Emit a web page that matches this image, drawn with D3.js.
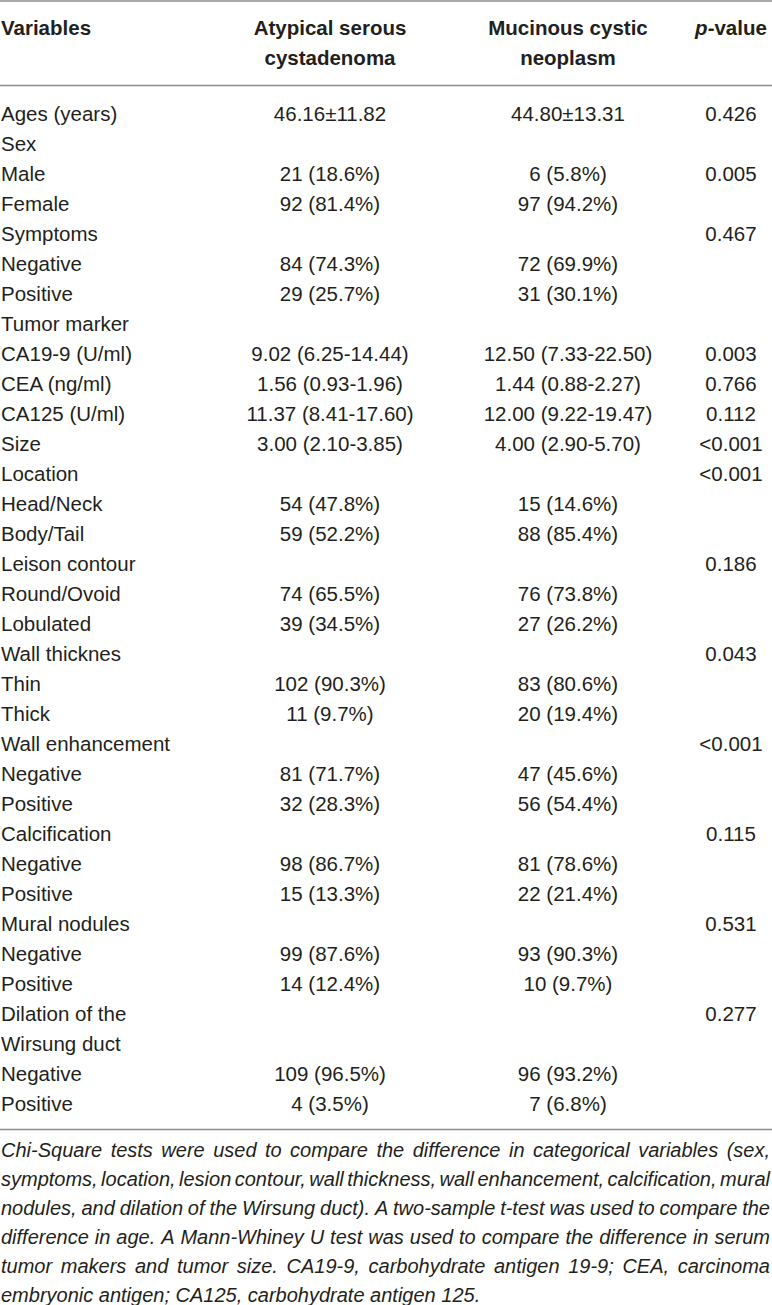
<!DOCTYPE html>
<html>
<head>
<meta charset="utf-8">
<script src="https://cdn.jsdelivr.net/npm/d3@7"></script>
<style>
  html, body { margin: 0; padding: 0; background: #fff; }
  svg { display: block; }
</style>
</head>
<body>
<div id="chart"></div>
<script>
// table content
const headers = [
  { key: 'label', lines: ['Variables'] },
  { key: 'asc', lines: ['Atypical serous', 'cystadenoma'] },
  { key: 'mcn', lines: ['Mucinous cystic', 'neoplasm'] },
  { key: 'p', lines: ['p-value'] }
];

const labels = [
  'Ages (years)', 'Sex', 'Male', 'Female', 'Symptoms', 'Negative', 'Positive',
  'Tumor marker', 'CA19-9 (U/ml)', 'CEA (ng/ml)', 'CA125 (U/ml)', 'Size',
  'Location', 'Head/Neck', 'Body/Tail', 'Leison contour', 'Round/Ovoid', 'Lobulated',
  'Wall thicknes', 'Thin', 'Thick', 'Wall enhancement', 'Negative', 'Positive',
  'Calcification', 'Negative', 'Positive', 'Mural nodules', 'Negative', 'Positive',
  'Dilation of the', 'Wirsung duct', 'Negative', 'Positive'
];

const ascValues = [
  '46.16±11.82', '', '21 (18.6%)', '92 (81.4%)', '', '84 (74.3%)', '29 (25.7%)',
  '', '9.02 (6.25-14.44)', '1.56 (0.93-1.96)', '11.37 (8.41-17.60)', '3.00 (2.10-3.85)',
  '', '54 (47.8%)', '59 (52.2%)', '', '74 (65.5%)', '39 (34.5%)',
  '', '102 (90.3%)', '11 (9.7%)', '', '81 (71.7%)', '32 (28.3%)',
  '', '98 (86.7%)', '15 (13.3%)', '', '99 (87.6%)', '14 (12.4%)',
  '', '', '109 (96.5%)', '4 (3.5%)'
];

const mcnValues = [
  '44.80±13.31', '', '6 (5.8%)', '97 (94.2%)', '', '72 (69.9%)', '31 (30.1%)',
  '', '12.50 (7.33-22.50)', '1.44 (0.88-2.27)', '12.00 (9.22-19.47)', '4.00 (2.90-5.70)',
  '', '15 (14.6%)', '88 (85.4%)', '', '76 (73.8%)', '27 (26.2%)',
  '', '83 (80.6%)', '20 (19.4%)', '', '47 (45.6%)', '56 (54.4%)',
  '', '81 (78.6%)', '22 (21.4%)', '', '93 (90.3%)', '10 (9.7%)',
  '', '', '96 (93.2%)', '7 (6.8%)'
];

const pValues = [
  '0.426', '', '0.005', '', '0.467', '', '',
  '', '0.003', '0.766', '0.112', '<0.001',
  '<0.001', '', '', '0.186', '', '',
  '0.043', '', '', '<0.001', '', '',
  '0.115', '', '', '0.531', '', '',
  '0.277', '', '', ''
];

const footnoteLines = [
  'Chi-Square tests were used to compare the difference in categorical variables (sex,',
  'symptoms, location, lesion contour, wall thickness, wall enhancement, calcification, mural',
  'nodules, and dilation of the Wirsung duct). A two-sample t-test was used to compare the',
  'difference in age. A Mann-Whiney U test was used to compare the difference in serum',
  'tumor makers and tumor size. CA19-9, carbohydrate antigen 19-9; CEA, carcinoma',
  'embryonic antigen; CA125, carbohydrate antigen 125.'
];

const W = 772, H = 1305;
const font = '"Liberation Sans", Arial, Helvetica, sans-serif';
const ink = '#231f20';
const ruleColor = '#8c8c8c';

const svg = d3.select('#chart').append('svg')
  .attr('width', W)
  .attr('height', H)
  .style('font-family', font);

const rows = labels.map((label, i) => ({
  label, asc: ascValues[i], mcn: mcnValues[i], p: pValues[i]
}));

// column centres and row baselines
const colX = d3.scaleOrdinal()
  .domain(['asc', 'mcn', 'p'])
  .range([330, 568, 731]);

const rowY = d3.scaleLinear()
  .domain([0, rows.length - 1])
  .range([121, 121 + (rows.length - 1) * 30]);

const noteY = d3.scaleLinear()
  .domain([0, footnoteLines.length - 1])
  .range([1157, 1157 + (footnoteLines.length - 1) * 29]);

// rules
[1, 85.5, 1129.5].forEach(y => {
  svg.append('line')
    .attr('x1', 0).attr('x2', W)
    .attr('y1', y).attr('y2', y)
    .attr('stroke', ruleColor)
    .attr('stroke-width', 1.5);
});

// header
const head = svg.append('g')
  .style('font-size', '20.5px')
  .style('font-weight', 'bold')
  .attr('fill', ink);

headers.forEach(h => {
  h.lines.forEach((line, j) => {
    const t = head.append('text')
      .attr('x', h.key === 'label' ? 1 : colX(h.key))
      .attr('y', 35 + j * 30)
      .attr('text-anchor', h.key === 'label' ? 'start' : 'middle');
    if (h.key === 'p') {
      t.append('tspan').style('font-style', 'italic').text('p');
      t.append('tspan').text('-value');
    } else {
      t.text(line);
    }
  });
});

// body
const body = svg.append('g')
  .style('font-size', '20.5px')
  .attr('fill', ink);

const row = body.selectAll('g.row')
  .data(rows)
  .enter()
  .append('g')
  .attr('class', 'row')
  .attr('transform', (d, i) => `translate(0, ${rowY(i)})`);

row.append('text')
  .attr('x', 1)
  .text(d => d.label);

['asc', 'mcn', 'p'].forEach(key => {
  row.append('text')
    .attr('x', colX(key))
    .attr('text-anchor', 'middle')
    .text(d => d[key]);
});

// footnote, justified like the source
const note = svg.append('g')
  .style('font-size', '20px')
  .style('font-style', 'italic')
  .attr('fill', ink);

footnoteLines.forEach((line, i) => {
  const t = note.append('text').attr('y', noteY(i));
  const words = line.split(' ');
  const last = i === footnoteLines.length - 1;
  if (last) {
    t.attr('x', 1).text(line);
    return;
  }
  const spans = words.map(w => t.append('tspan').text(w));
  const widths = spans.map(s => s.node().getComputedTextLength());
  const gap = (W - 3 - d3.sum(widths)) / (words.length - 1);
  let x = 1;
  spans.forEach((s, k) => {
    s.attr('x', x);
    x += widths[k] + gap;
  });
});
</script>
</body>
</html>
